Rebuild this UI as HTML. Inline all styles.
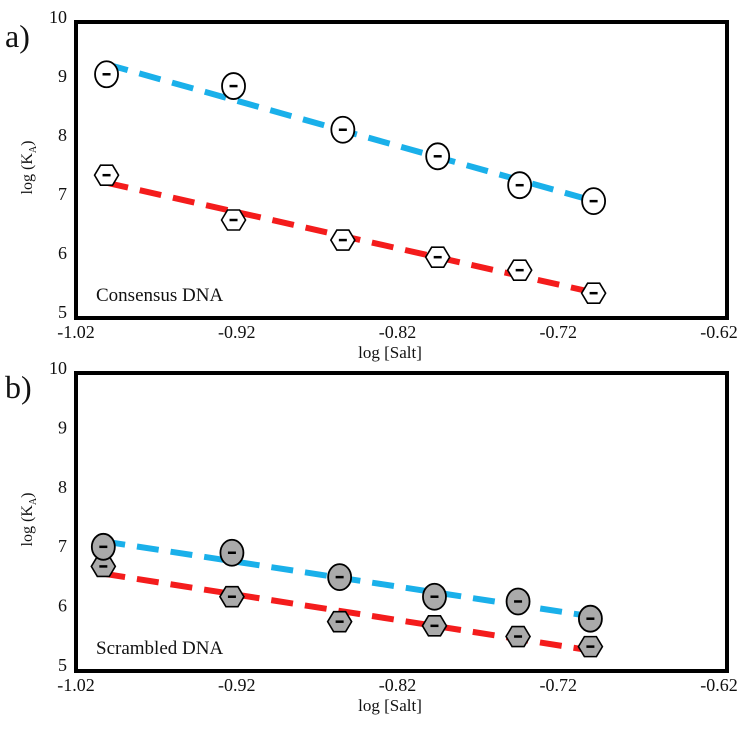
<!DOCTYPE html>
<html><head><meta charset="utf-8"><style>
body{margin:0;background:#fff}
svg text{font-family:"Liberation Serif",serif;fill:#111}
</style></head><body>
<svg id="c" width="745" height="729" xmlns="http://www.w3.org/2000/svg"></svg>
<script>
const xTicks=[-1.02,-0.92,-0.82,-0.72,-0.62];
const xTickLabels=["-1.02","-0.92","-0.82","-0.72","-0.62"];
const yTicks=[5,6,7,8,9,10];
const xA=[-1.001,-0.922,-0.854,-0.795,-0.744,-0.698];
const consBlue=[9.08,8.88,8.14,7.69,7.20,6.93];
const consRed=[7.37,6.61,6.27,5.98,5.76,5.37];
const xB=[-1.003,-0.923,-0.856,-0.797,-0.745,-0.700];
const scrBlue=[7.04,6.94,6.53,6.20,6.12,5.83];
const scrRed=[6.71,6.20,5.78,5.71,5.53,5.36];
const NS="http://www.w3.org/2000/svg";
const svg=document.getElementById('c');
function mk(t,a,p){const e=document.createElementNS(NS,t);for(const k in a)e.setAttribute(k,a[k]);(p||svg).appendChild(e);return e;}
function fit(xs,ys){const n=xs.length;let mx=0,my=0;for(let i=0;i<n;i++){mx+=xs[i];my+=ys[i];}mx/=n;my/=n;let sxy=0,sxx=0;for(let i=0;i<n;i++){sxy+=(xs[i]-mx)*(ys[i]-my);sxx+=(xs[i]-mx)**2;}const b=sxy/sxx;return[my-b*mx,b];}
function hex(g,cx,cy,fill){const w=12,h=10;const pts=[[cx-w,cy],[cx-w/2,cy-h],[cx+w/2,cy-h],[cx+w,cy],[cx+w/2,cy+h],[cx-w/2,cy+h]].map(p=>p.join(',')).join(' ');return mk('polygon',{points:pts,fill:fill,stroke:'#000','stroke-width':1.6},g);}
function errbar(g,cx,cy){mk('line',{x1:cx-4,y1:cy,x2:cx+4,y2:cy,stroke:'#000','stroke-width':2.5},g);}
function panel(name,y10,y5,xs,blue,red,label,letter,fill){
  const X=v=>76+(v+1.02)*1607.5;
  const Yf=v=>y5-(v-5)*(y5-y10)/5;
  const g=mk('g',{});
  const fr=mk('rect',{x:76,y:y10+2,width:651,height:y5-y10+1,fill:'none',stroke:'#000','stroke-width':4},g);
  
  yTicks.forEach(v=>{const t=mk('text',{x:67,y:Yf(v)+3,'text-anchor':'end','font-size':18},g);t.textContent=v;});
  xTicks.forEach((v,i)=>{const t=mk('text',{x:X(v),y:y5+23,'text-anchor':'middle','font-size':18},g);t.textContent=xTickLabels[i];});
  const xt=mk('text',{x:390,y:y5+43,'text-anchor':'middle','font-size':17},g);xt.textContent='log [Salt]';
  const yc=(y10+y5)/2;
  const yt=mk('text',{x:0,y:0,'text-anchor':'middle','font-size':16,transform:`translate(32,${yc}) rotate(-90)`},g);
  yt.innerHTML='log (K<tspan font-size="10" dy="4">A</tspan><tspan dy="-4">)</tspan>';
  
  const lt=mk('text',{x:5,y:y10+27,'font-size':32},g);lt.textContent=letter;
  const dl=mk('text',{x:96,y:y5-14,'font-size':19},g);dl.textContent=label;
  [[blue,'#1ab0ea','blue-fit-line'],[red,'#f41c1c','red-fit-line']].forEach(([ys,col,nm])=>{const [a,b]=fit(xs,ys);const x0=xs[0],x1=xs[xs.length-1];
    const l=mk('line',{x1:X(x0),y1:Yf(a+b*x0),x2:X(x1),y2:Yf(a+b*x1),stroke:col,'stroke-width':6,'stroke-dasharray':'22 12'},g);});
  red.forEach((v,i)=>{const h=hex(g,X(xs[i]),Yf(v),fill);errbar(g,X(xs[i]),Yf(v));});
  blue.forEach((v,i)=>{const e=mk('ellipse',{cx:X(xs[i]),cy:Yf(v),rx:11.5,ry:13,fill:fill,stroke:'#000','stroke-width':1.8},g);errbar(g,X(xs[i]),Yf(v));});
}
panel('panel-a-consensus',20,315,xA,consBlue,consRed,'Consensus DNA','a)','#fff');
panel('panel-b-scrambled',371,668,xB,scrBlue,scrRed,'Scrambled DNA','b)','#aaaaaa');
</script>
</body></html>
